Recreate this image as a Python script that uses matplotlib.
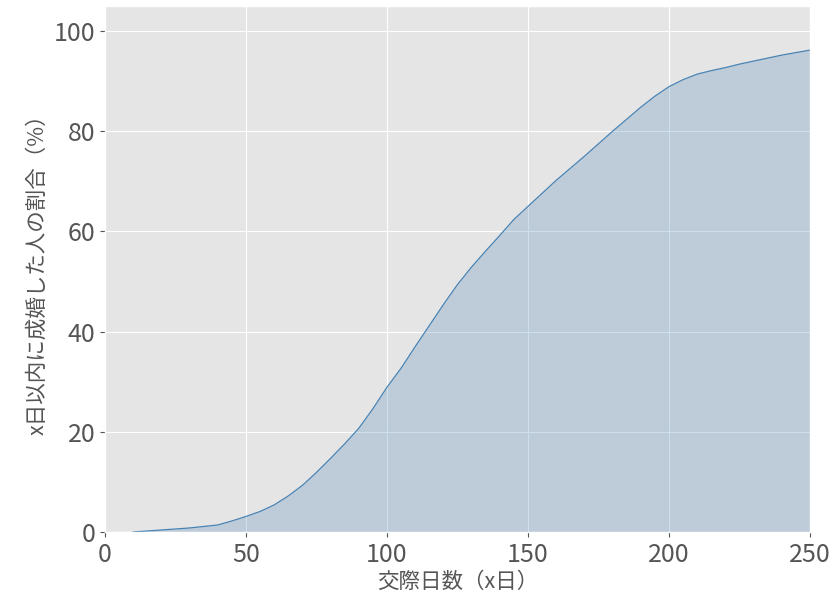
import numpy as np
import matplotlib.pyplot as plt

plt.style.use('ggplot')
plt.rcParams['font.family'] = ['Noto Sans CJK JP', 'DejaVu Sans']

# 交際日数 (x日) と x日以内に成婚した人の割合 (%)
days = np.array([10, 15, 20, 25, 30, 35, 40, 45, 50, 55, 60, 65, 70, 75, 80,
                 85, 90, 95, 100, 105, 110, 115, 120, 125, 130, 135, 140,
                 145, 150, 155, 160, 165, 170, 175, 180, 185, 190, 195, 200,
                 205, 210, 215, 220, 225, 230, 235, 240, 245, 250])
rate = np.array([0.0, 0.2, 0.4, 0.6, 0.8, 1.1, 1.4, 2.2, 3.1, 4.1, 5.4, 7.2,
                 9.3, 11.9, 14.7, 17.6, 20.7, 24.6, 28.9, 32.7, 37.0, 41.2,
                 45.4, 49.4, 52.9, 56.1, 59.2, 62.4, 65.0, 67.6, 70.2, 72.6,
                 75.0, 77.5, 80.0, 82.4, 84.8, 87.0, 88.9, 90.3, 91.4, 92.1,
                 92.7, 93.4, 94.0, 94.6, 95.2, 95.7, 96.2])

fig = plt.figure(figsize=(8.38, 6.07), dpi=100)
ax = fig.add_axes([0.1253, 0.1236, 0.8413, 0.8665])

ax.plot(days, rate, color='steelblue', lw=0.9)
ax.fill_between(days, rate, 0, color='steelblue', alpha=0.25, lw=0)

ax.set_xlim(0, 250)
ax.set_ylim(0, 105)
ax.set_xticks([0, 50, 100, 150, 200, 250])
ax.set_yticks([0, 20, 40, 60, 80, 100])
ax.tick_params(labelsize=18, colors='#555555')
ax.set_xlabel('交際日数（x日）', fontsize=15.5, color='#555555', labelpad=2)
ax.set_ylabel('x日以内に成婚した人の割合（%）', fontsize=15.5, color='#555555', labelpad=4)

fig.savefig('out.png', dpi=100)
